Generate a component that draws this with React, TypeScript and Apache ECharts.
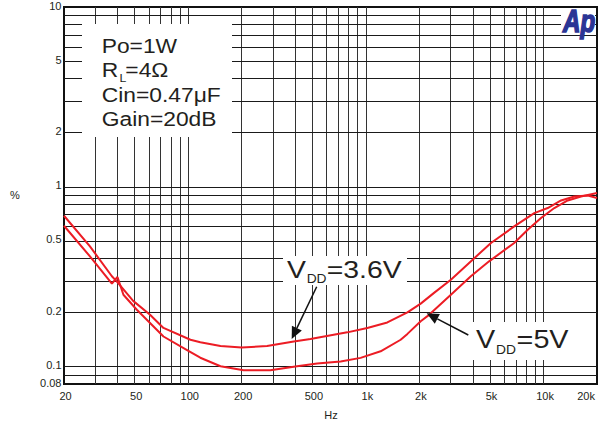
import React, { useEffect, useRef } from "react";
import * as echarts from "echarts";

// THD+N (%) vs frequency (Hz)
const freq36 = [20, 28, 37.2, 39.6, 49, 61, 72.6, 103, 117, 152, 200, 278, 393, 488, 786, 1019, 1321, 1714, 2036, 2420, 3010, 3990, 5060, 6840, 8870, 10560, 12550, 14910, 17740, 20000];
const thd36 = [0.69, 0.466, 0.318, 0.298, 0.232, 0.194, 0.164, 0.141, 0.1365, 0.13, 0.1275, 0.13, 0.138, 0.1425, 0.155, 0.164, 0.176, 0.2, 0.224, 0.257, 0.304, 0.393, 0.487, 0.602, 0.714, 0.762, 0.839, 0.883, 0.895, 0.866];

const freq5 = [20, 28, 37.2, 40, 43.2, 51.4, 72.6, 98, 117, 152, 205, 290, 410, 532, 721, 934, 1211, 1570, 1714, 2036, 2270, 3010, 3900, 4940, 6840, 8150, 9680, 11500, 13690, 16260, 20000];
const thd5 = [0.607, 0.41, 0.289, 0.315, 0.251, 0.207, 0.147, 0.124, 0.112, 0.1004, 0.0954, 0.0954, 0.1004, 0.104, 0.1066, 0.1118, 0.1216, 0.141, 0.152, 0.1786, 0.194, 0.251, 0.318, 0.385, 0.487, 0.577, 0.67, 0.762, 0.839, 0.883, 0.923];

const xTickValues = [20, 50, 100, 200, 500, 1000, 2000, 5000, 10000, 20000];
const xTickLabels = ["20", "50", "100", "200", "500", "1k", "2k", "5k", "10k", "20k"];
const yTickValues = [10, 5, 2, 1, 0.5, 0.2, 0.1, 0.08];
const yTickLabels = ["10", "5", "2", "1", "0.5", "0.2", "0.1", "0.08"];

const xGrid = [30, 40, 50, 60, 70, 80, 90, 100, 200, 300, 400, 500, 600, 700, 800, 900, 1000, 2000, 3000, 4000, 5000, 6000, 7000, 8000, 9000, 10000];
const yGrid = [0.09, 0.1, 0.2, 0.3, 0.4, 0.5, 0.6, 0.7, 0.8, 0.9, 1, 2, 3, 4, 5, 6, 7, 8, 9];

const RED = "#ec1c24";
const FONT = "Liberation Sans, Arial, sans-serif";
const TXT = "#231f20";

function arrow(x1: number, y1: number, tx: number, ty: number, len = 12, hw = 5.5) {
  const dx = tx - x1, dy = ty - y1;
  const L = Math.hypot(dx, dy);
  const ux = dx / L, uy = dy / L;
  const bx = tx - ux * len, by = ty - uy * len;
  const nx = -uy, ny = ux;
  return [
    { type: "line", z: 12, shape: { x1, y1, x2: bx, y2: by }, style: { stroke: "#111", lineWidth: 1.5 }, silent: true },
    { type: "polygon", z: 12, shape: { points: [[tx, ty], [bx + nx * hw, by + ny * hw], [bx - nx * hw, by - ny * hw]] }, style: { fill: "#111" }, silent: true },
  ];
}

function txt(text: string, x: number, y: number, size: number, align = "left", extra: any = {}) {
  return {
    type: "text", x, y, z: 11, silent: true,
    style: { text, fontSize: size, fontFamily: FONT, fill: TXT, align, verticalAlign: "middle", ...extra },
  };
}

export default function App() {
  const ref = useRef<HTMLDivElement>(null);
  useEffect(() => {
    document.body.style.margin = "0";
    const chart = echarts.init(ref.current!, null, { renderer: "svg" });
    const gridLines = [
      ...xGrid.map((v) => ({ xAxis: v, lineStyle: { color: "#333" } })),
      ...yGrid.map((v) => ({ yAxis: v, lineStyle: { color: "#1a1a1a" } })),
    ];
    const hiddenAxis = {
      axisLabel: { show: false }, axisTick: { show: false }, axisLine: { show: false }, splitLine: { show: false },
    };
    chart.setOption({
      animation: false,
      grid: { left: 64, right: 10, top: 7, bottom: 39, show: true, borderColor: "#111", borderWidth: 2 },
      xAxis: { type: "log", logBase: 10, min: 20, max: 20000, ...hiddenAxis },
      yAxis: { type: "log", logBase: 10, min: 0.08, max: 10, ...hiddenAxis },
      series: [
        {
          type: "line", data: [], silent: true,
          markLine: {
            silent: true, z: 1, symbol: ["none", "none"], label: { show: false },
            lineStyle: { type: "solid", width: 1, color: "#222" }, emphasis: { disabled: true },
            animation: false, data: gridLines,
          },
        },
        {
          name: "VDD=3.6V", type: "line", z: 3, silent: true, showSymbol: false, symbol: "none",
          lineStyle: { color: RED, width: 2 }, data: freq36.map((f, i) => [f, thd36[i]]),
        },
        {
          name: "VDD=5V", type: "line", z: 3, silent: true, showSymbol: false, symbol: "none",
          lineStyle: { color: RED, width: 2 }, data: freq5.map((f, i) => [f, thd5[i]]),
        },
      ],
    });

    const els: any[] = [];
    xTickValues.forEach((v, i) => {
      const p = chart.convertToPixel({ gridIndex: 0 }, [v, 1]) as number[];
      if (i === xTickValues.length - 1) els.push(txt(xTickLabels[i], p[0] - 2, 396, 11, "right"));
      else els.push(txt(xTickLabels[i], p[0] + 1.5, 396, 11, "center"));
    });
    yTickValues.forEach((v, i) => {
      const p = chart.convertToPixel({ gridIndex: 0 }, [100, v]) as number[];
      els.push(txt(yTickLabels[i], 61.5, p[1] - 1.5, 11, "right"));
    });
    els.push(txt("%", 15, 195, 11, "center"));
    els.push(txt("Hz", 331, 415, 11, "center"));

    // legend box
    els.push({ type: "rect", z: 10, silent: true, shape: { x: 82, y: 24, width: 150, height: 113 }, style: { fill: "#fff" } });
    els.push({
      type: "group", x: 101.7, y: 0, scaleX: 1.17, children: [
        txt("Po=1W", 0, 46.5, 19.5),
        txt("R", 0, 70.2, 19.5),
        txt("L", 15.2, 78, 10.5),
        txt("=4Ω", 20.2, 70.2, 19.5),
        txt("Cin=0.47μF", 0, 94.9, 19.5),
        txt("Gain=20dB", 0, 119.2, 19.5),
      ],
    });

    // VDD=3.6V label
    els.push({ type: "rect", z: 10, silent: true, shape: { x: 283, y: 256, width: 124, height: 29 }, style: { fill: "#fff" } });
    els.push({
      type: "group", x: 287, y: 0, scaleX: 1.15, children: [
        txt("V", 0, 269.4, 24.7),
        txt("DD", 17.1, 279.1, 12),
        txt("=3.6V", 34.5, 269.4, 24.7),
      ],
    });
    els.push(...arrow(316.7, 286.7, 291.7, 339));

    // VDD=5V label
    els.push({ type: "rect", z: 10, silent: true, shape: { x: 470, y: 322, width: 104, height: 38 }, style: { fill: "#fff" } });
    els.push({
      type: "group", x: 476, y: 0, scaleX: 1.15, children: [
        txt("V", 0, 339.6, 25),
        txt("DD", 17.4, 349.8, 12),
        txt("=5V", 35.3, 339.6, 25),
      ],
    });
    els.push(...arrow(468.3, 335, 426.7, 313.3));

    // logo
    els.push({ type: "rect", z: 10, silent: true, shape: { x: 561, y: 9, width: 34, height: 25 }, style: { fill: "#fff" } });
    els.push({
      type: "group", x: 563, y: 0, scaleX: 0.78, children: [
        txt("Ap", 0, 21, 31, "left", {
          fill: "#2b3595", fontWeight: "bold", fontStyle: "italic", stroke: "#2b3595", lineWidth: 1.6,
        }),
      ],
    });

    chart.setOption({ graphic: { elements: els } });
    return () => chart.dispose();
  }, []);
  return <div ref={ref} style={{ width: 607, height: 423 }} />;
}
